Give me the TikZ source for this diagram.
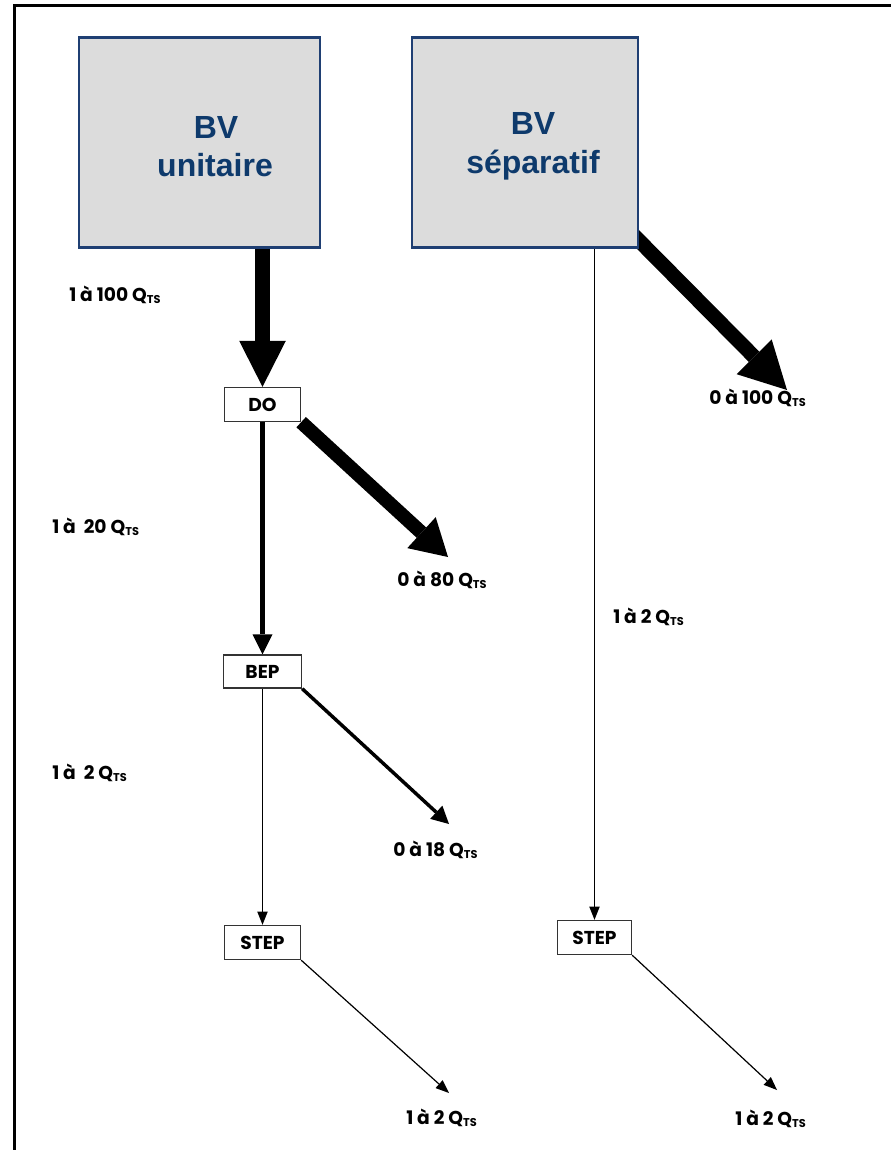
\documentclass[tikz,border=0pt]{standalone}
\usepackage{fontspec}
\usetikzlibrary{arrows.meta,backgrounds,calc}
\newfontfamily\lblfont{Poppins}
\newfontfamily\boxfont{Liberation Sans}
\definecolor{navy}{HTML}{0E3A6C}
\definecolor{bvfill}{HTML}{DCDCDC}
\definecolor{bvline}{HTML}{1F3F73}
\newcommand\myqts{Q{\fontsize{8.5}{8.5}\selectfont\raisebox{-1.3pt}{TS}}}
\begin{document}
\begin{tikzpicture}[x=0.75pt,y=-0.75pt,
  bvbox/.style={draw=bvline,line width=1.6pt,fill=bvfill,inner sep=0pt,minimum height=157.5pt},
  bvtext/.style={anchor=base,text=navy,inner sep=0pt,font=\boxfont\bfseries\fontsize{24}{28}\selectfont},
  smallbox/.style={draw=black!80,line width=1pt,fill=white,inner sep=0pt,minimum height=25.5pt,
    font=\lblfont\bfseries\fontsize{14}{14}\selectfont},
  qlabel/.style={anchor=west,inner sep=0pt,font=\lblfont\bfseries\fontsize{14}{14}\selectfont},
  bigarrow/.style={line width=11pt,-{Triangle[length=34.5pt,width=35pt,line width=0pt]}},
  midarrow/.style={line width=10.5pt,-{Triangle[length=27pt,width=31.5pt,line width=0pt]}},
  medarrow/.style={line width=3.3pt,-{Triangle[length=15pt,width=15pt,line width=0pt]}},
  medarrowb/.style={line width=2.6pt,-{Triangle[length=13pt,width=13.5pt,line width=0pt]}},
  thinarrow/.style={line width=0.9pt,-{Triangle[length=10pt,width=8pt,line width=0pt]}}
]
\useasboundingbox (0,0) rectangle (890,1150);
% frame
\draw[line width=2.25pt] (14,1152) -- (14,5) -- (892,5);

% big boxes
\node[bvbox,minimum width=180.75pt] (b1) at (199.5,142.5) {};
\node[bvbox,minimum width=169.5pt] (b2) at (525,142.5) {};
\node[bvtext] (b1a) at (216,138) {BV};
\node[bvtext] (b1b) at (215,176) {unitaire};
\node[bvtext] (b2a) at (533,134) {BV};
\node[bvtext] (b2b) at (533,173) {séparatif};

% small boxes
\node[smallbox,minimum width=57pt] (do) at (262.5,404.5) {DO};
\node[smallbox,minimum width=58.5pt,minimum height=24.75pt] (bep) at (262.5,671.5) {BEP};
\node[smallbox,minimum width=57pt] (step1) at (262.5,942.5) {STEP};
\node[smallbox,minimum width=55.5pt] (step2) at (594.5,937.5) {STEP};

% arrow ends
\coordinate (t0) at (787,390);
\coordinate (t1) at (448,557);
\coordinate (t2) at (449,824);
\coordinate (t3) at (449,1093);
\coordinate (t4) at (777,1090);

\begin{scope}[on background layer]
\fill[white] (0,0) rectangle (890,1150);
\draw[bigarrow] (b1.south -| do.north) -- (do.north);
\draw[line width=11pt,-{Triangle[length=35pt,width=37pt,line width=0pt]}] ($(b2.south east)+(-6,-14)$) -- (t0);
\draw[midarrow] (do.south east) -- (t1);
\draw[medarrow] (do.south) -- (bep.north);
\draw[medarrowb] (bep.south east) -- (t2);
\draw[thinarrow] (bep.south) -- (step1.north);
\draw[thinarrow] (b2.south -| step2.north) -- (step2.north);
\draw[thinarrow] (step1.south east) -- (t3);
\draw[thinarrow] (step2.south east) -- (t4);
\end{scope}

% labels
\node[qlabel] (l1) at (69,295) {1 à 100 \myqts};
\node[qlabel] (l2) at (52,527) {1 à~ 20 \myqts};
\node[qlabel] (l3) at (52,773) {1 à~ 2 \myqts};
\node[qlabel] (l4) at (709,398) {0 à 100 \myqts};
\node[qlabel] (l5) at (397,580) {0 à 80 \myqts};
\node[qlabel] (l6) at (613,617) {1 à 2 \myqts};
\node[qlabel] (l7) at (393,850) {0 à 18 \myqts};
\node[qlabel] (l8) at (406,1118) {1 à 2 \myqts};
\node[qlabel] (l9) at (735,1119) {1 à 2 \myqts};
\end{tikzpicture}
\end{document}
